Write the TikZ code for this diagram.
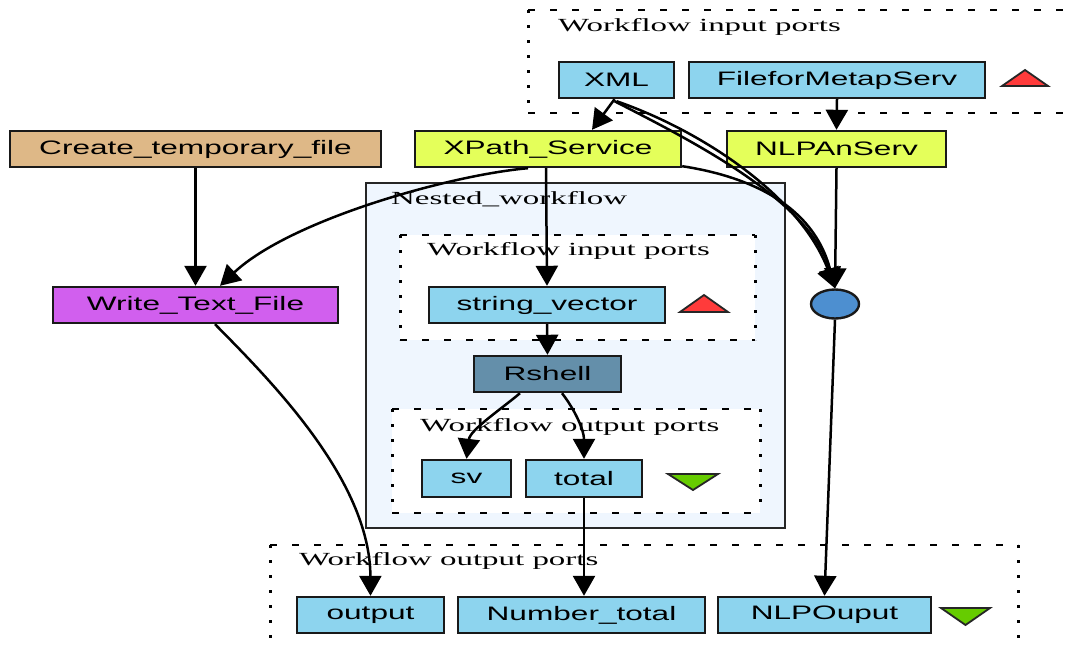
\documentclass[tikz,border=0pt]{standalone}
\usepackage{fontspec}
\setmainfont{Liberation Sans}[FakeStretch=1.62]
\newfontfamily\clusterfont{Liberation Serif}[FakeStretch=1.78]
\usetikzlibrary{arrows.meta,calc,shapes.geometric}
\definecolor{portblue}{HTML}{8DD4EE}
\definecolor{tanbox}{HTML}{DEB887}
\definecolor{servicegreen}{HTML}{E4FF5A}
\definecolor{localpink}{HTML}{D15FEE}
\definecolor{rshellblue}{HTML}{648FAA}
\definecolor{mergeblue}{HTML}{4D8FD0}
\definecolor{nestfill}{HTML}{EFF6FE}
\definecolor{upred}{HTML}{FF3B3B}
\definecolor{downgreen}{HTML}{66CC00}
\tikzset{
  box/.style={draw=black!90, line width=2.4pt, rectangle, minimum height=36pt,
    inner sep=0pt, font=\fontsize{19.5}{22}\selectfont, text=black},
  port/.style={box, fill=portblue},
  service/.style={box, fill=servicegreen},
  wire/.style={line width=2.5pt, -{Triangle[length=20pt,width=22pt]}},
  hdots/.style={line width=2.6pt, dash pattern=on 7pt off 15pt},
  vdots/.style={line width=3pt, dash pattern=on 3pt off 12pt},
  clabel/.style={anchor=west, inner sep=0pt, font=\clusterfont\fontsize{18.5}{20}\selectfont},
  marker/.style={line width=1.8pt, draw=black!85}
}
\begin{document}
\begin{tikzpicture}[x=1pt,y=-1pt]
\useasboundingbox (0,0) rectangle (1065,646);
\clip (0,0) rectangle (1065,646);

% nested workflow frame
\filldraw[fill=nestfill, draw=black!85, line width=2.4pt] (366,183) rectangle (785,528);

% port clusters: light fill, dashed top/bottom, dotted sides
\fill[white] (528,10) rectangle (1075,113);
\draw[hdots] (528,10) -- (1075,10);
\draw[hdots] (528,113) -- (1075,113);
\draw[vdots] (528,10) -- (528,113);

\fill[white] (400,235) rectangle (755,340);
\draw[hdots] (400,235) -- (755,235);
\draw[hdots] (400,340) -- (755,340);
\draw[vdots] (400,235) -- (400,340);
\draw[vdots] (755,235) -- (755,340);

\fill[white] (392,409) rectangle (760,513);
\draw[hdots] (392,409) -- (760,409);
\draw[hdots] (392,513) -- (760,513);
\draw[vdots] (392,409) -- (392,513);
\draw[vdots] (760,409) -- (760,513);

\fill[white] (270,545) rectangle (1018,660);
\draw[hdots] (270,545) -- (1018,545);
\draw[vdots] (270,545) -- (270,660);
\draw[vdots] (1018,545) -- (1018,660);

% cluster titles
\node[clabel] (topin)   at (558,27)  {Workflow input ports};
\node[clabel] (nestlbl) at (391,199) {Nested\_workflow};
\node[clabel] (innerin) at (427,251) {Workflow input ports};
\node[clabel] (innerout)at (420,427) {Workflow output ports};
\node[clabel] (botout)  at (299,561) {Workflow output ports};

% processors and ports
\node[port, minimum width=115pt] (xml)    at (616.5,80) {XML};
\node[port, minimum width=296pt] (file)   at (837,80)   {FileforMetapServ};
\node[box, fill=tanbox, minimum width=371pt] (create) at (195.5,149) {Create\_temporary\_file};
\node[service, minimum width=266pt] (xpath) at (548,149) {XPath\_Service};
\node[service, minimum width=219pt] (nlpan) at (836.5,149) {NLPAnServ};
\node[box, fill=localpink, minimum width=285pt] (write) at (195.5,305) {Write\_Text\_File};
\node[port, minimum width=236pt] (strv)   at (547,305)   {string\_vector};
\node[box, fill=rshellblue, minimum width=147pt] (rshell) at (547.5,374) {Rshell};
\node[port, minimum width=89pt, minimum height=37pt]  (sv)    at (466.5,478.5) {sv};
\node[port, minimum width=116pt, minimum height=37pt] (total) at (584,478.5)   {total};
\node[ellipse, draw=black!90, line width=2.4pt, fill=mergeblue,
      minimum width=48pt, minimum height=29pt, inner sep=0pt] (merge) at (835,304) {};
\node[port, minimum width=147pt] (out)    at (370.5,615) {output};
\node[port, minimum width=247pt] (numtot) at (581.5,615) {Number\_total};
\node[port, minimum width=213pt] (nlpout) at (824.5,615) {NLPOuput};

% input / output markers
\filldraw[marker, fill=upred] (1002,86) -- (1048,86) -- (1025,70) -- cycle;
\filldraw[marker, fill=upred] (680,312) -- (728,312) -- (704,295) -- cycle;
\filldraw[marker, fill=downgreen] (668,474) -- (718,474) -- (693,490) -- cycle;
\filldraw[marker, fill=downgreen] (941,608) -- (990,608) -- (965.5,625) -- cycle;

% data links
\draw[wire] ($(xml.south)+(-2,0)$) -- ($(xpath.north)+(44,0)$);
\draw[wire] ($(xml.south)+(-2,2)$) .. controls (690,140) and (810,200) .. (merge.north);
\draw[wire] ($(xml.south)+(0,2)$) .. controls (700,130) and (800,195) .. (merge.north);
\draw[wire] ($(xpath.south east)+(0,-2)$) .. controls (740,175) and (812,200) .. (merge.north);
\draw[wire] (file.south) -- (nlpan.north);
\draw[wire] (nlpan.south) -- (merge.north);
\draw[wire] (create.south) -- (write.north);
\draw[wire] ($(xpath.south)+(-20,0)$) .. controls (450,175) and (290,220) .. ($(write.north)+(24.5,0)$);
\draw[wire] ($(xpath.south)+(-2,0)$) -- (strv.north);
\draw[wire] (strv.south) -- (rshell.north);
\draw[wire] ($(rshell.south)+(-27.5,0)$) .. controls (500,410) and (470,430) .. (sv.north);
\draw[wire] ($(rshell.south)+(14.5,0)$) .. controls (575,410) and (584,430) .. (total.north);
\draw[wire] (total.south) -- (total.south |- numtot.north);
\draw[wire] ($(write.south)+(19.5,0)$) .. controls (270,380) and (370,480) .. (out.north);
\draw[wire] (merge.south) -- (nlpout.north);
\end{tikzpicture}
\end{document}
